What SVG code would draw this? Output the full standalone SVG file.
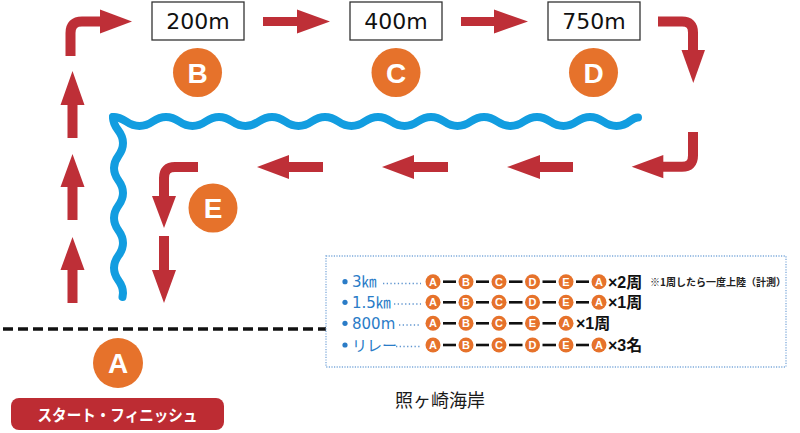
<svg xmlns="http://www.w3.org/2000/svg" width="800" height="433" viewBox="0 0 800 433">
<style>
.arr{fill:#be2f37}
.shaft{fill:none;stroke:#be2f37;stroke-width:10}
.oc{fill:#e6722b}
.big{font-family:"Liberation Sans",Arial,sans-serif;font-weight:bold;font-size:28px;fill:#fff;text-anchor:middle}
.sm{font-family:"Liberation Sans",Arial,sans-serif;font-weight:bold;font-size:11px;fill:#fff;text-anchor:middle}
.box{fill:#fff;stroke:#333;stroke-width:1.3}
.dist{font-family:"DejaVu Sans",sans-serif;font-size:22px;fill:#111;text-anchor:middle}
.wave{fill:none;stroke:#129de0;stroke-width:8;stroke-linecap:round;stroke-linejoin:round}
.rowt{font-family:"DejaVu Sans","Noto Sans CJK JP",sans-serif;font-size:15px;fill:#2a7cc7}
.lead{stroke:#5f95cf;stroke-width:1.4;stroke-dasharray:1.3 2.4}
.dash{stroke:#111;stroke-width:2.6}
.mul{font-family:"Liberation Sans","Noto Sans CJK JP",sans-serif;font-weight:bold;font-size:16px;fill:#111}
</style>

<g id="connectors">
  <!-- top-left bent arrow -->
  <path class="shaft" d="M70.5,56 V33 Q70.5,21.5 82,21.5 H101"/>
  <polygon class="arr" points="100,9.5 132,21.5 100,33.5"/>
  <!-- up arrows -->
  <polygon class="arr" points="67.5,303 77.5,303 77.5,270 84.5,270 72.5,237 60.5,270 67.5,270"/>
  <polygon class="arr" points="67.5,220 77.5,220 77.5,187 84.5,187 72.5,154 60.5,187 67.5,187"/>
  <polygon class="arr" points="67.5,138 77.5,138 77.5,105 84.5,105 72.5,71 60.5,105 67.5,105"/>
  <!-- top right arrows -->
  <polygon class="arr" points="263,17 297,17 297,9.5 330,21.5 297,33.5 297,26 263,26"/>
  <polygon class="arr" points="461,17 494,17 494,9.5 528,21.5 494,33.5 494,26 461,26"/>
  <!-- top right bent down -->
  <path class="shaft" d="M658,21.5 H682 Q693,21.5 693,32.5 V51"/>
  <polygon class="arr" points="681.5,50 705,50 693.3,83"/>
  <!-- right bent left -->
  <path class="shaft" d="M693,132 V155.5 Q693,166.7 682,166.7 H662"/>
  <polygon class="arr" points="663.3,155 631.7,166.7 663.3,178.3"/>
  <!-- left arrows -->
  <polygon class="arr" points="573,162 540,162 540,155 507,167 540,179 540,172 573,172"/>
  <polygon class="arr" points="448,162 414,162 414,155 382,167 414,179 414,172 448,172"/>
  <polygon class="arr" points="323,162 289,162 289,155 257,167 289,179 289,172 323,172"/>
  <!-- E bent down -->
  <path class="shaft" d="M198,167 H175 Q164,167 164,178 V197"/>
  <polygon class="arr" points="152,196 176,196 164,228"/>
  <polygon class="arr" points="159,236 169,236 169,270 176,270 164,303 152,270 159,270"/>
</g>

<g id="wave">
  <path class="wave" d="M113,117 C126.25,117 126.25,126 139.5,126 S152.75,117 166,117 S179.25,126 192.5,126 S205.75,117 219,117 S232.25,126 245.5,126 S258.75,117 272,117 S285.25,126 298.5,126 S311.75,117 325,117 S338.25,126 351.5,126 S364.75,117 378,117 S391.25,126 404.5,126 S417.75,117 431,117 S444.25,126 457.5,126 S470.75,117 484,117 S497.25,126 510.5,126 S523.75,117 537,117 S550.25,126 563.5,126 S576.75,117 590,117 S603.25,126 616.5,126 S630,117.5 638,117.5"/>
  <path class="wave" d="M113,117 C113,130 123,130 123,143 S114,155.5 114,168 S123,180.5 123,193 S114,205.5 114,218 S123,230.5 123,243 S114,255.5 114,268 S123,280.5 123,293 L122.5,297"/>
</g>

<line id="shoreline" x1="3" y1="329" x2="326" y2="329" stroke="#111" stroke-width="3.4" stroke-dasharray="10 5"/>

<g id="box-200"><rect class="box" x="152" y="2" width="92" height="38"/><text class="dist" x="198" y="29">200m</text></g>
<g id="box-400"><rect class="box" x="350" y="2" width="92" height="38"/><text class="dist" x="396" y="29">400m</text></g>
<g id="box-750"><rect class="box" x="548" y="2" width="92" height="38"/><text class="dist" x="594" y="29">750m</text></g>

<g id="node-B"><circle class="oc" cx="197.5" cy="72.5" r="24.5"/><text class="big" x="197.5" y="82.5">B</text></g>
<g id="node-C"><circle class="oc" cx="396" cy="72.5" r="24.5"/><text class="big" x="396" y="82.5">C</text></g>
<g id="node-D"><circle class="oc" cx="593.5" cy="72.5" r="24.5"/><text class="big" x="593.5" y="82.5">D</text></g>
<g id="node-E"><circle class="oc" cx="213" cy="208" r="24.5"/><text class="big" x="213" y="218">E</text></g>
<g id="node-A"><circle class="oc" cx="118" cy="363" r="25"/><text class="big" x="118" y="373">A</text></g>

<g id="start-finish">
  <rect x="11" y="398" width="213" height="32" rx="8" fill="#bd2c33"/>
  <text x="117.5" y="420.5" textLength="160" lengthAdjust="spacingAndGlyphs" text-anchor="middle" font-family="'Noto Sans CJK JP',sans-serif" font-weight="bold" font-size="16" fill="#fff">スタート・フィニッシュ</text>
</g>

<text id="shore" x="395" y="407" font-family="'Noto Sans CJK JP',sans-serif" font-size="18" fill="#1a1a1a">照ヶ崎海岸</text>

<g id="legend">
  <rect x="326" y="256" width="460" height="111" fill="#fff" stroke="#7eaadb" stroke-width="1.3" stroke-dasharray="1.2 1.4"/>
  <!-- row 1 -->
  <circle cx="345" cy="281.7" r="2.6" fill="#2a7cc7"/>
  <text class="rowt" x="352" y="287">3㎞</text>
  <line class="lead" x1="383" y1="283.5" x2="421" y2="283.5"/>
  <g>
    <circle class="oc" cx="433" cy="281.7" r="7.5"/><text class="sm" x="433" y="285.7">A</text>
    <circle class="oc" cx="466" cy="281.7" r="7.5"/><text class="sm" x="466" y="285.7">B</text>
    <circle class="oc" cx="499" cy="281.7" r="7.5"/><text class="sm" x="499" y="285.7">C</text>
    <circle class="oc" cx="532.5" cy="281.7" r="7.5"/><text class="sm" x="532.5" y="285.7">D</text>
    <circle class="oc" cx="566" cy="281.7" r="7.5"/><text class="sm" x="566" y="285.7">E</text>
    <circle class="oc" cx="599" cy="281.7" r="7.5"/><text class="sm" x="599" y="285.7">A</text>
    <line class="dash" x1="443" y1="281.7" x2="456" y2="281.7"/>
    <line class="dash" x1="476" y1="281.7" x2="489" y2="281.7"/>
    <line class="dash" x1="509" y1="281.7" x2="522.5" y2="281.7"/>
    <line class="dash" x1="542.5" y1="281.7" x2="556" y2="281.7"/>
    <line class="dash" x1="576" y1="281.7" x2="589" y2="281.7"/>
  </g>
  <text class="mul" x="608" y="287.5">×2周</text>
  <text x="650" y="286" font-family="'Noto Sans CJK JP',sans-serif" font-weight="bold" font-size="10" fill="#222">※1周したら一度上陸（計測）</text>
  <!-- row 2 -->
  <circle cx="345" cy="302.3" r="2.6" fill="#2a7cc7"/>
  <text class="rowt" x="352" y="307.5">1.5㎞</text>
  <line class="lead" x1="394" y1="304" x2="421" y2="304"/>
  <g>
    <circle class="oc" cx="433" cy="302.3" r="7.5"/><text class="sm" x="433" y="306.3">A</text>
    <circle class="oc" cx="466" cy="302.3" r="7.5"/><text class="sm" x="466" y="306.3">B</text>
    <circle class="oc" cx="499" cy="302.3" r="7.5"/><text class="sm" x="499" y="306.3">C</text>
    <circle class="oc" cx="532.5" cy="302.3" r="7.5"/><text class="sm" x="532.5" y="306.3">D</text>
    <circle class="oc" cx="566" cy="302.3" r="7.5"/><text class="sm" x="566" y="306.3">E</text>
    <circle class="oc" cx="599" cy="302.3" r="7.5"/><text class="sm" x="599" y="306.3">A</text>
    <line class="dash" x1="443" y1="302.3" x2="456" y2="302.3"/>
    <line class="dash" x1="476" y1="302.3" x2="489" y2="302.3"/>
    <line class="dash" x1="509" y1="302.3" x2="522.5" y2="302.3"/>
    <line class="dash" x1="542.5" y1="302.3" x2="556" y2="302.3"/>
    <line class="dash" x1="576" y1="302.3" x2="589" y2="302.3"/>
  </g>
  <text class="mul" x="608" y="308">×1周</text>
  <!-- row 3 -->
  <circle cx="345" cy="323.3" r="2.6" fill="#2a7cc7"/>
  <text class="rowt" x="352" y="328.5">800m</text>
  <line class="lead" x1="399" y1="325" x2="421" y2="325"/>
  <g>
    <circle class="oc" cx="433" cy="323.3" r="7.5"/><text class="sm" x="433" y="327.3">A</text>
    <circle class="oc" cx="466" cy="323.3" r="7.5"/><text class="sm" x="466" y="327.3">B</text>
    <circle class="oc" cx="499" cy="323.3" r="7.5"/><text class="sm" x="499" y="327.3">C</text>
    <circle class="oc" cx="532.5" cy="323.3" r="7.5"/><text class="sm" x="532.5" y="327.3">E</text>
    <circle class="oc" cx="566" cy="323.3" r="7.5"/><text class="sm" x="566" y="327.3">A</text>
    <line class="dash" x1="443" y1="323.3" x2="456" y2="323.3"/>
    <line class="dash" x1="476" y1="323.3" x2="489" y2="323.3"/>
    <line class="dash" x1="509" y1="323.3" x2="522.5" y2="323.3"/>
    <line class="dash" x1="542.5" y1="323.3" x2="556" y2="323.3"/>
  </g>
  <text class="mul" x="576" y="329">×1周</text>
  <!-- row 4 -->
  <circle cx="345" cy="345" r="2.6" fill="#2a7cc7"/>
  <text class="rowt" x="352" y="350.5">リレー</text>
  <line class="lead" x1="396" y1="346.5" x2="421" y2="346.5"/>
  <g>
    <circle class="oc" cx="433" cy="345" r="7.5"/><text class="sm" x="433" y="349">A</text>
    <circle class="oc" cx="466" cy="345" r="7.5"/><text class="sm" x="466" y="349">B</text>
    <circle class="oc" cx="499" cy="345" r="7.5"/><text class="sm" x="499" y="349">C</text>
    <circle class="oc" cx="532.5" cy="345" r="7.5"/><text class="sm" x="532.5" y="349">D</text>
    <circle class="oc" cx="566" cy="345" r="7.5"/><text class="sm" x="566" y="349">E</text>
    <circle class="oc" cx="599" cy="345" r="7.5"/><text class="sm" x="599" y="349">A</text>
    <line class="dash" x1="443" y1="345" x2="456" y2="345"/>
    <line class="dash" x1="476" y1="345" x2="489" y2="345"/>
    <line class="dash" x1="509" y1="345" x2="522.5" y2="345"/>
    <line class="dash" x1="542.5" y1="345" x2="556" y2="345"/>
    <line class="dash" x1="576" y1="345" x2="589" y2="345"/>
  </g>
  <text class="mul" x="608" y="351">×3名</text>
</g>
</svg>
